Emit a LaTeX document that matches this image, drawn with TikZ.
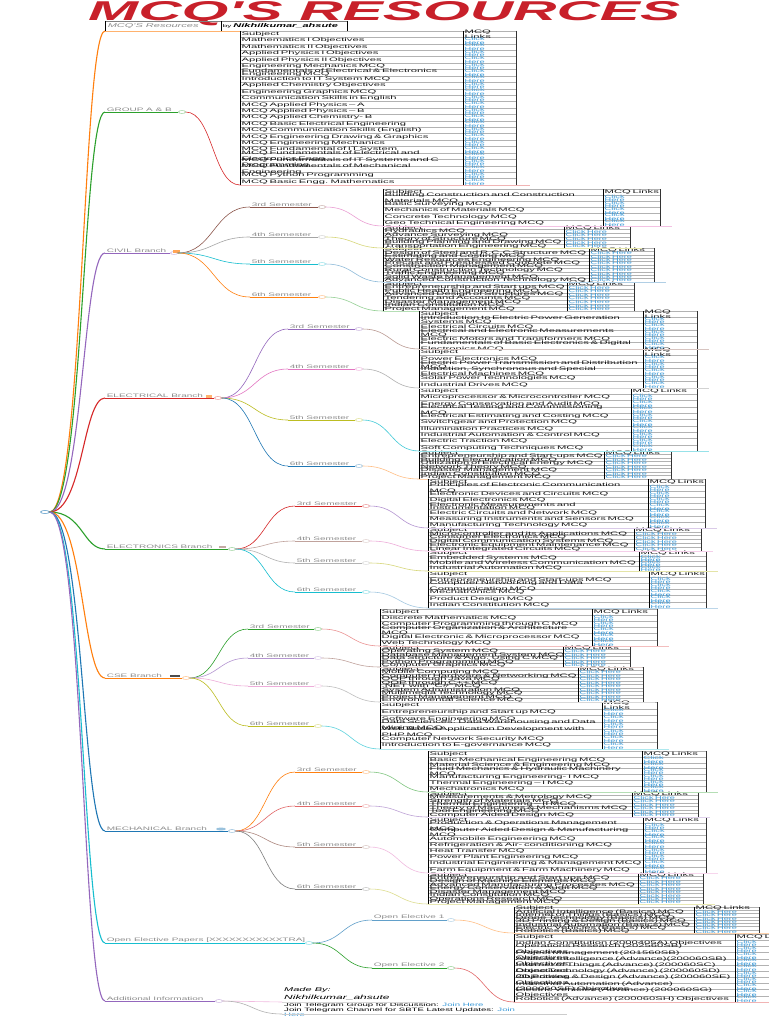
\documentclass[tikz,border=0pt]{standalone}
\usepackage{fontspec}
\usepackage{graphicx}
\usetikzlibrary{calc,shapes.geometric}
\newfontfamily\wf[FakeStretch=2.0]{Liberation Sans}
\newfontfamily\wg[FakeStretch=2.25]{Liberation Sans}
\newfontfamily\tf{Liberation Sans}
\hyphenpenalty=10000
\exhyphenpenalty=10000
\newif\ifcompact
\definecolor{cBlue}{HTML}{1F77B4}
\definecolor{cOrange}{HTML}{FF7F0E}
\definecolor{cGreen}{HTML}{2CA02C}
\definecolor{cRed}{HTML}{D62728}
\definecolor{cPurple}{HTML}{9467BD}
\definecolor{cBrown}{HTML}{8C564B}
\definecolor{cPink}{HTML}{E377C2}
\definecolor{cGray}{HTML}{7F7F7F}
\definecolor{cOlive}{HTML}{BCBD22}
\definecolor{cCyan}{HTML}{17BECF}
\definecolor{titlered}{HTML}{C8202A}
\definecolor{lnkblue}{HTML}{3A9AD9}
\tikzset{
  lbl/.style={font=\wf\fontsize{5}{5}\selectfont, text=black!45, inner sep=0.6pt},
  cell/.style={font=\wg\fontsize{5.0}{3.8}\selectfont, text=black!90, inner sep=0pt, align=left},
  lnk/.style={font=\wf\fontsize{4.6}{3.6}\selectfont, text=lnkblue, inner sep=0pt, align=left},
  mainc/.style={line width=1.1pt},
  subc/.style={line width=0.6pt},
  uline/.style={line width=0.5pt},
  rowl/.style={draw=black!30, line width=0.4pt},
  coll/.style={draw=black, line width=0.9pt},
  colr/.style={draw=black!80, line width=0.5pt},
  knob/.style={ellipse, minimum width=7pt, minimum height=3pt, inner sep=0pt, line width=0.4pt, fill=white}
}
% curve between two points, vertical turn at fraction #4
\newcommand{\conn}[4]{\draw[#1] let \p1=(#2), \p2=(#3) in (\p1) .. controls ({\x1+#4*(\x2-\x1)},\y1) and ({\x1+#4*(\x2-\x1)},\y2) .. (\p2);}
% labelled branch with underline and knob
\newcommand{\br}[6]{%
  \coordinate (#1-l) at (#2,#3);
  \coordinate (#1-r) at (#4,#3);
  \node[lbl,anchor=south west] (#1) at (#2+1,#3) {#6};
  \draw[#5,uline] (#1-l) -- (#1-r);
  \node[knob,draw=#5,draw opacity=0.55] (#1-k) at (#4+4,#3) {};
}
% table: name, xl, ytop, xlink, xr, ybottom, nrows, list, link text
\newcommand{\mcq}[9]{%
  \pgfmathsetmacro\rh{(#6-#3)/(#7+1)}%
  \pgfmathsetmacro\tw{#4-#2-3}%
  \ifcompact\def\tw{400}\fi
  \pgfmathsetmacro\lw{#5-#4-2}%
  \coordinate (#1-bl) at (#2,#6);
  \coordinate (#1-br) at (#5,#6);
  \foreach \k in {0,...,#7}{\draw[rowl] (#2,{#3+\k*\rh}) -- (#5,{#3+\k*\rh});}
  \draw[rowl] (#2,#6) -- (#5,#6);
  \draw[coll] (#2,#3) -- (#2,#6);
  \draw[coll] (#4,#3) -- (#4,#6);
  \draw[colr] (#5,#3) -- (#5,#6);
  \node[cell,anchor=west,text width=\tw pt] (#1-h) at (#2+1.5,{#3+0.5*\rh}) {Subject};
  \node[cell,anchor=west,text width=\lw pt] (#1-hl) at (#4+1.5,{#3+0.5*\rh}) {MCQ Links};
  \foreach \sname [count=\i] in {#8}{%
    \node[cell,anchor=west,text width=\tw pt] (#1-s\i) at (#2+1.5,{#3+(\i+0.5)*\rh}) {\sname};
    \node[lnk,anchor=west,text width=\lw pt] (#1-l\i) at (#4+1.5,{#3+(\i+0.5)*\rh}) {#9};
  }%
}
\begin{document}
\begin{tikzpicture}[x=1pt,y=-1pt]
\fill[white] (0,0) rectangle (768,1024);
\useasboundingbox (0,0) rectangle (768,1024);

% ---------- title ----------
\node[anchor=north west, inner sep=0, text=titlered] (title) at (88,1) {\resizebox{592pt}{19pt}{\tf\bfseries\itshape MCQ'S RESOURCES}};
\coordinate (tb-l) at (105,31);
\coordinate (tb-r) at (347,31);
\draw[black!50, line width=0.4pt] (105,21) -- (347,21);
\draw[black, line width=0.8pt] (105,21) -- (105,31);
\draw[black, line width=0.6pt] (221,21) -- (221,31);
\draw[black, line width=0.6pt] (347,21) -- (347,31);
\draw[cOrange!60, uline] (tb-l) -- (tb-r);
\node[lbl, anchor=west, font=\wf\fontsize{5.5}{5.5}\selectfont\itshape] (tb1) at (107,26) {MCQ'S Resources};
\node[lbl, anchor=west, text=black] (tb2) at (222,26) {\fontsize{4}{4}\selectfont by \fontsize{5.5}{5.5}\selectfont\bfseries\itshape Nikhilkumar\_ahsute};

% ---------- root ----------
\node[knob, draw=cBlue, minimum width=9pt] (root) at (45,512) {};

% ---------- main branches ----------
\br{gab}{105}{112}{178}{cGreen}{GROUP A \& B}
\br{civ}{105}{253}{170}{cPurple}{CIVIL Branch}
\br{ele}{105}{398}{214}{cRed}{ELECTRICAL Branch}
\br{etc}{105}{549}{228}{cGreen}{ELECTRONICS Branch}
\br{cse}{105}{678}{182}{cOrange}{CSE Branch}
\br{mech}{105}{831}{228}{cBlue}{MECHANICAL Branch}
\br{oe}{105}{943}{305}{cCyan}{Open Elective Papers [XXXXXXXXXXXTRA]}
\br{add}{105}{1001}{215}{cPurple}{Additional Information}

\node[inner sep=0, minimum width=7pt, minimum height=3pt, fill=cOrange!70] (icon-civ) at (176,251) {};
\node[inner sep=0, minimum width=6pt, minimum height=3pt, fill=cOrange!60] (icon-ele) at (209,396) {};
\node[inner sep=0, minimum width=7pt, minimum height=2pt, fill=cBrown!50] (icon-etc) at (222,547) {};
\node[inner sep=0, minimum width=10pt, minimum height=2.5pt, fill=black!70] (icon-cse) at (175,676) {};
\node[ellipse, inner sep=0, minimum width=10pt, minimum height=3pt, fill=cBlue!45] (icon-mech) at (221,829) {};

\conn{cOrange,mainc}{root.east}{tb-l}{0.6}
\conn{cGreen,mainc}{root.east}{gab-l}{0.6}
\conn{cPurple,mainc}{root.east}{civ-l}{0.6}
\conn{cRed,mainc}{root.east}{ele-l}{0.6}
\conn{cGreen,mainc}{root.east}{etc-l}{0.6}
\conn{cOrange,mainc}{root.east}{cse-l}{0.6}
\conn{cBlue,mainc}{root.east}{mech-l}{0.6}
\conn{cCyan,mainc}{root.east}{oe-l}{0.6}
\conn{cPurple,mainc}{root.east}{add-l}{0.6}

% ---------- GROUP A & B ----------
\compactfalse
\mcq{T-ga}{240}{31}{463}{516}{185}{23}{Mathematics I Objectives, Mathematics II Objectives, Applied Physics I Objectives, Applied Physics II Objectives, Engineering Mechanics MCQ, Fundamentals of Electrical \& Electronics Engineering MCQ, Introduction to IT System MCQ, Applied Chemistry Objectives, Engineering Graphics MCQ, Communication Skills in English, MCQ Applied Physics – A, MCQ Applied Physics – B, MCQ Applied Chemistry- B, MCQ Basic Electrical Engineering, MCQ Communication Skills (English), MCQ Engineering Drawing \& Graphics, MCQ Engineering Mechanics, MCQ Fundamental of IT System, MCQ Fundamentals of Electrical and Electronics Engg., MCQ Fundamentals of IT Systems and C Programming, MCQ Fundamentals of Mechanical Engineering, MCQ Python Programming, MCQ Basic Engg. Mathematics}{Click\\Here}
\conn{cRed,subc}{gab-k.east}{T-ga-bl}{0.5}
\draw[cRed!35,uline] (T-ga-bl) -- ($(T-ga-br)+(14,0)$);

% ---------- CIVIL ----------
\br{c3}{250}{207}{318}{cBrown}{3rd Semester}
\br{c4}{250}{237}{318}{cGray!70}{4th Semester}
\br{c5}{250}{264}{318}{cCyan}{5th Semester}
\br{c6}{250}{297}{318}{cOrange}{6th Semester}
\conn{cBrown,subc}{civ-k.east}{c3-l}{0.5}
\conn{cGray!70,subc}{civ-k.east}{c4-l}{0.5}
\conn{cCyan,subc}{civ-k.east}{c5-l}{0.5}
\conn{cOrange,subc}{civ-k.east}{c6-l}{0.5}
\compactfalse
\mcq{T-civ3}{383}{189}{603}{660}{226}{5}{Building Construction and Construction Materials MCQ, Basic Surveying MCQ, Mechanics of Materials MCQ, Concrete Technology MCQ, Geo Technical Engineering MCQ}{Click\\Here}
\compacttrue
\mcq{T-civ4}{383}{226}{564}{630}{248}{5}{Hydraulics MCQ, Advance Surveying MCQ, Theory of Structure MCQ, Building Planning and Drawing MCQ, Transportation Engineering MCQ}{Click Here}
\mcq{T-civ5}{383}{248}{589}{654}{282}{9}{Design of Steel and R.C.C Structure MCQ, Estimating and Costing MCQ, Water Resources Engineering MCQ, Precast and Prestressed Concrete MCQ, Construction Management MCQ, Rural Construction Technology MCQ, Traffic Engineering MCQ, Solid Waste Management MCQ, Advanced Construction Technology MCQ}{Click Here}
\mcq{T-civ6}{383}{282}{567}{634}{311}{7}{Entrepreneurship and Start ups MCQ, Public Health Engineering MCQ, Advanced Design of Structures MCQ, Tendering and Accounts MCQ, Disaster Management MCQ, Indian Constitution MCQ, Project Management MCQ}{Click Here}
\conn{cPink!70,subc}{c3-k.east}{T-civ3-bl}{0.5}
\conn{cOlive!60,subc}{c4-k.east}{T-civ4-bl}{0.5}
\conn{cBlue!50,subc}{c5-k.east}{T-civ5-bl}{0.5}
\conn{cGreen!50,subc}{c6-k.east}{T-civ6-bl}{0.5}
\draw[cPink!45,uline] (T-civ3-bl) -- ($(T-civ3-br)+(12,0)$);
\draw[cOlive!40,uline] (T-civ4-bl) -- ($(T-civ4-br)+(12,0)$);
\draw[cBlue!35,uline] (T-civ5-bl) -- ($(T-civ5-br)+(12,0)$);
\draw[cGreen!35,uline] (T-civ6-bl) -- ($(T-civ6-br)+(12,0)$);

% ---------- ELECTRICAL ----------
\br{e3}{288}{329}{355}{cPurple}{3rd Semester}
\br{e4}{288}{369}{355}{cPink}{4th Semester}
\br{e5}{288}{420}{355}{cOlive}{5th Semester}
\br{e6}{288}{466}{355}{cBlue}{6th Semester}
\conn{cPurple,subc}{ele-k.east}{e3-l}{0.5}
\conn{cPink,subc}{ele-k.east}{e4-l}{0.5}
\conn{cOlive,subc}{ele-k.east}{e5-l}{0.5}
\conn{cBlue,subc}{ele-k.east}{e6-l}{0.5}
\compactfalse
\mcq{T-ele3}{419}{311}{643}{697}{349}{5}{Introduction to Electric Power Generation Systems MCQ, Electrical Circuits MCQ, Electrical and Electronic Measurements MCQ, Electric Motors and Transformers MCQ, Fundamentals of Basic Electronics \& Digital Electronics MCQ}{Click\\Here}
\mcq{T-ele4}{419}{349}{643}{697}{388}{5}{Power Electronics MCQ, Electric Power Transmission and Distribution MCQ, {Induction, Synchronous and Special Electrical Machines MCQ}, Solar Power Technologies MCQ, Industrial Drives MCQ}{Click\\Here}
\mcq{T-ele5}{419}{388}{631}{697}{451}{9}{Microprocessor \& Microcontroller MCQ, Energy Conservation and Audit MCQ, Electrical Testing and Commissioning MCQ, Electrical Estimating and Costing MCQ, Switchgear and Protection MCQ, Illumination Practices MCQ, Industrial Automation \& Control MCQ, Electric Traction MCQ, Soft Computing Techniques MCQ}{Click\\Here}
\compacttrue
\mcq{T-ele6}{419}{451}{604}{671}{479}{7}{Entrepreneurship and Start-ups MCQ, Building Electrification MCQ, Utilization of Electrical Energy MCQ, Network Theory MCQ, Disaster Management MCQ, Indian Constitution MCQ, Project Management MCQ}{Click Here}
\conn{cBrown!60,subc}{e3-k.east}{T-ele3-bl}{0.5}
\conn{cGray!60,subc}{e4-k.east}{T-ele4-bl}{0.5}
\conn{cCyan!80,subc}{e5-k.east}{T-ele5-bl}{0.5}
\conn{cOrange!50,subc}{e6-k.east}{T-ele6-bl}{0.5}
\draw[cBrown!35,uline] (T-ele3-bl) -- ($(T-ele3-br)+(12,0)$);
\draw[cGray!35,uline] (T-ele4-bl) -- ($(T-ele4-br)+(12,0)$);
\draw[cCyan!45,uline] (T-ele5-bl) -- ($(T-ele5-br)+(12,0)$);
\draw[cOrange!35,uline] (T-ele6-bl) -- ($(T-ele6-br)+(12,0)$);

% ---------- ELECTRONICS ----------
\br{t3}{295}{506}{362}{cRed}{3rd Semester}
\br{t4}{295}{541}{362}{cBrown!55}{4th Semester}
\br{t5}{295}{563}{362}{cGray!60}{5th Semester}
\br{t6}{295}{592}{362}{cCyan}{6th Semester}
\conn{cRed,subc}{etc-k.east}{t3-l}{0.5}
\conn{cBrown!55,subc}{etc-k.east}{t4-l}{0.5}
\conn{cGray!60,subc}{etc-k.east}{t5-l}{0.5}
\conn{cCyan,subc}{etc-k.east}{t6-l}{0.5}
\compactfalse
\mcq{T-etc3}{428}{479}{648}{705}{528}{7}{Principles of Electronic Communication MCQ, Electronic Devices and Circuits MCQ, Digital Electronics MCQ, Electronic Measurements and Instrumentation MCQ, Electric Circuits and Network MCQ, Measuring Instruments and Sensors MCQ, Manufacturing Technology MCQ}{Click\\Here}
\compacttrue
\mcq{T-etc4}{428}{528}{634}{701}{551}{5}{Microcontroller and its Applications MCQ, Consumer Electronics MCQ, Digital Communication Systems MCQ, Electronic Equipment Maintenance MCQ, Linear Integrated Circuits MCQ}{Click Here}
\compactfalse
\mcq{T-etc5}{428}{551}{639}{706}{571}{3}{Embedded Systems MCQ, Mobile and Wireless Communication MCQ, Industrial Automation MCQ}{Click\\Here}
\mcq{T-etc6}{428}{571}{649}{706}{608}{5}{Entrepreneurship and Start-ups MCQ, Computer Networking and Data Communication MCQ, Mechatronics MCQ, Product Design MCQ, Indian Constitution MCQ}{Click\\Here}
\conn{cPurple!70,subc}{t3-k.east}{T-etc3-bl}{0.5}
\conn{cPink!60,subc}{t4-k.east}{T-etc4-bl}{0.5}
\conn{cOlive!60,subc}{t5-k.east}{T-etc5-bl}{0.5}
\conn{cBlue!40,subc}{t6-k.east}{T-etc6-bl}{0.5}
\draw[cPurple!35,uline] (T-etc3-bl) -- ($(T-etc3-br)+(12,0)$);
\draw[cPink!35,uline] (T-etc4-bl) -- ($(T-etc4-br)+(12,0)$);
\draw[cOlive!40,uline] (T-etc5-bl) -- ($(T-etc5-br)+(12,0)$);
\draw[cBlue!30,uline] (T-etc6-bl) -- ($(T-etc6-br)+(12,0)$);

% ---------- CSE ----------
\br{s3}{248}{629}{314}{cGreen}{3rd Semester}
\br{s4}{248}{658}{314}{cPurple!70}{4th Semester}
\br{s5}{248}{686}{314}{cPink!60}{5th Semester}
\br{s6}{248}{726}{314}{cOlive}{6th Semester}
\conn{cGreen,subc}{cse-k.east}{s3-l}{0.5}
\conn{cPurple!70,subc}{cse-k.east}{s4-l}{0.5}
\conn{cPink!60,subc}{cse-k.east}{s5-l}{0.5}
\conn{cOlive,subc}{cse-k.east}{s6-l}{0.5}
\compactfalse
\mcq{T-cse3}{380}{609}{592}{657}{646}{5}{Discrete Mathematics MCQ, Computer Programming through C MCQ, Computer Organization \& Architecture MCQ, Digital Electronic \& Microprocessor MCQ, Web Technology MCQ}{Click\\Here}
\compacttrue
\mcq{T-cse4}{380}{646}{563}{630}{667}{5}{Operating System MCQ, Database Management System MCQ, Data Structure \& Algo. Using C MCQ, Python Programming MCQ, Computer Graphics MCQ}{Click Here}
\mcq{T-cse5}{380}{667}{578}{643}{702}{9}{Mobile Computing MCQ, Computer Hardware \& Networking MCQ, OOP through Java MCQ, OOP through C++ MCQ, .NET with "C\#" MCQ, System Administration MCQ, Multimedia Technology MCQ, Project Management MCQ, Environmental Science MCQ}{Click Here}
\compactfalse
\mcq{T-cse6}{380}{702}{602}{657}{749}{6}{Entrepreneurship and Start up MCQ, Software Engineering MCQ, Data Sciences: Data Warehousing and Data Mining MCQ, Web Based Application Development with PHP MCQ, Computer Network Security MCQ, Introduction to E-governance MCQ}{Click\\Here}
\conn{cRed!50,subc}{s3-k.east}{T-cse3-bl}{0.5}
\conn{cBrown!55,subc}{s4-k.east}{T-cse4-bl}{0.5}
\conn{cGray!50,subc}{s5-k.east}{T-cse5-bl}{0.5}
\conn{cCyan!70,subc}{s6-k.east}{T-cse6-bl}{0.5}
\draw[cRed!30,uline] (T-cse3-bl) -- ($(T-cse3-br)+(12,0)$);
\draw[cBrown!30,uline] (T-cse4-bl) -- ($(T-cse4-br)+(12,0)$);
\draw[cGray!30,uline] (T-cse5-bl) -- ($(T-cse5-br)+(12,0)$);
\draw[cCyan!35,uline] (T-cse6-bl) -- ($(T-cse6-br)+(12,0)$);

% ---------- MECHANICAL ----------
\br{m3}{295}{772}{362}{cOrange}{3rd Semester}
\br{m4}{295}{806}{362}{cRed!70}{4th Semester}
\br{m5}{295}{847}{362}{cBrown!70}{5th Semester}
\br{m6}{295}{889}{362}{cGray}{6th Semester}
\conn{cOrange,subc}{mech-k.east}{m3-l}{0.5}
\conn{cRed!70,subc}{mech-k.east}{m4-l}{0.5}
\conn{cBrown!70,subc}{mech-k.east}{m5-l}{0.5}
\conn{cGray,subc}{mech-k.east}{m6-l}{0.5}
\compactfalse
\mcq{T-mech3}{428}{751}{642}{706}{792}{6}{Basic Mechanical Engineering MCQ, Material Science \& Engineering MCQ, Fluid Mechanics \& Hydraulic Machinery MCQ, Manufacturing Engineering- I MCQ, Thermal Engineering – I MCQ, Mechatronics MCQ}{Click\\Here}
\compacttrue
\mcq{T-mech4}{428}{792}{632}{698}{817}{6}{Measurements \& Metrology MCQ, Strength of Materials MCQ, Thermal Engineering – II MCQ, Theory of Machines \& Mechanisms MCQ, Tool Engineering MCQ, Computer Aided Design MCQ}{Click Here}
\compactfalse
\mcq{T-mech5}{428}{817}{643}{706}{873}{8}{Production \& Operations Management MCQ, Computer Aided Design \& Manufacturing MCQ, Automobile Engineering MCQ, Refrigeration \& Air- conditioning MCQ, Heat Transfer MCQ, Power Plant Engineering MCQ, Industrial Engineering \& Management MCQ, Farm Equipment \& Farm Machinery MCQ}{Click\\Here}
\compacttrue
\mcq{T-mech6}{428}{873}{638}{703}{904}{8}{Entrepreneurship and Start ups MCQ, Design of Machine Elements MCQ, Advanced Manufacturing Processes MCQ, Energy Conservation \& Audit MCQ, Disaster Management MCQ, Indian Constitution MCQ, Operations Research MCQ, Project Management MCQ}{Click Here}
\conn{cGreen!60,subc}{m3-k.east}{T-mech3-bl}{0.5}
\conn{cPurple!60,subc}{m4-k.east}{T-mech4-bl}{0.5}
\conn{cPink!50,subc}{m5-k.east}{T-mech5-bl}{0.5}
\conn{cOlive!50,subc}{m6-k.east}{T-mech6-bl}{0.5}
\draw[cGreen!35,uline] (T-mech3-bl) -- ($(T-mech3-br)+(12,0)$);
\draw[cPurple!30,uline] (T-mech4-bl) -- ($(T-mech4-br)+(12,0)$);
\draw[cPink!30,uline] (T-mech5-bl) -- ($(T-mech5-br)+(12,0)$);
\draw[cOlive!35,uline] (T-mech6-bl) -- ($(T-mech6-br)+(12,0)$);

% ---------- OPEN ELECTIVE ----------
\br{o1}{372}{920}{447}{cBlue!70}{Open Elective 1}
\br{o2}{372}{968}{447}{cGreen}{Open Elective 2}
\conn{cBlue!70,subc}{oe-k.east}{o1-l}{0.5}
\conn{cGreen,subc}{oe-k.east}{o2-l}{0.5}
\compacttrue
\mcq{T-oe1}{514}{907}{694}{759}{933}{7}{Artificial Intelligence (Basics) MCQ, Internet of Things (Basics) MCQ, Drone Technology (Basics) MCQ, 3D Printing \& Design (Basics) MCQ, Industrial Automation (Basics) MCQ, Electric Vehicles (Basics) MCQ, Robotics (Basics) MCQ}{Click Here}
\compactfalse
\mcq{T-oe2}{514}{934}{735}{800}{1002}{10}{Indian Constitution (2000405A) Objectives, Operations Research (202560SB) Objectives, Project Management (201560SB) Objectives, Artificial Intelligence (Advance)(200060SB) Objectives, Internet of Things (Advance) (200060SC) Objectives, Drone Technology (Advance) (200060SD) Objectives, 3D Printing \& Design (Advance) (200060SE) Objectives, Industrial Automation (Advance) (200060SF) Objectives, Electric Vehicles (Advance) (200060SG) Objectives, Robotics (Advance) (200060SH) Objectives}{Click\\Here}
\conn{cOrange!50,subc}{o1-k.east}{T-oe1-bl}{0.5}
\conn{cRed!70,subc}{o2-k.east}{T-oe2-bl}{0.5}
\draw[cOrange!35,uline] (T-oe1-bl) -- ($(T-oe1-br)+(12,0)$);
\draw[cRed!35,uline] (T-oe2-bl) -- ($(T-oe2-br)+(12,0)$);

% ---------- ADDITIONAL ----------
\coordinate (a1-l) at (282,1002);
\coordinate (a1-r) at (427,1002);
\coordinate (a2-l) at (282,1014);
\coordinate (a2-r) at (567,1014);
\node[anchor=south west, inner sep=0, font=\wf\fontsize{5.5}{5.5}\selectfont\itshape] (madeby) at (284,993) {Made By:};
\node[anchor=south west, inner sep=0, font=\wf\fontsize{6}{6}\selectfont\itshape] (mbname) at (284,1000.5) {Nikhilkumar\_ahsute};
\node[anchor=north west, inner sep=0, align=left, font=\wf\fontsize{4.8}{4.1}\selectfont] (tg) at (284,1002.5) {Join Telegram Group for Discussion: \textcolor{lnkblue}{Join Here}\\Join Telegram Channel for SBTE Latest Updates: \textcolor{lnkblue}{Join}\\\textcolor{lnkblue}{Here}};
\draw[cGray!30,uline] (a1-l) -- (a1-r);
\draw[cGray!40,uline] (a2-l) -- (a2-r);
\conn{cPink!50,subc}{add-k.east}{a1-l}{0.5}
\conn{cGray!60,subc}{add-k.east}{a2-l}{0.5}
\end{tikzpicture}
\end{document}
